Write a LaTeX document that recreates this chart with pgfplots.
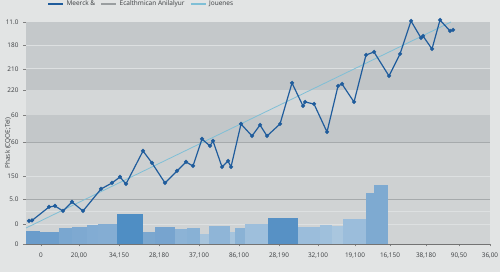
\documentclass[border=0pt]{standalone}
\usepackage{pgfplots}
\pgfplotsset{compat=1.18}
\usepackage{fontspec}
\setmainfont{Open Sans}
\definecolor{pagebg}{HTML}{E2E4E4}
\definecolor{mainblue}{HTML}{1F5C9C}
\definecolor{trendc}{HTML}{7FBFD6}
\definecolor{leggray}{HTML}{9A9EA0}
\definecolor{txt}{HTML}{3A3D40}
\definecolor{bA}{HTML}{C4C8CA}
\definecolor{bB}{HTML}{C7CBCD}
\definecolor{bC}{HTML}{C1C5C7}
\definecolor{bD}{HTML}{D4D7D8}
\definecolor{bE}{HTML}{C3C7C9}
\definecolor{bF}{HTML}{CDD0D1}
\definecolor{bG}{HTML}{CED1D2}
\definecolor{bH}{HTML}{D0D3D4}
\definecolor{lnL}{HTML}{DDE0E1}
\definecolor{lnD}{HTML}{A6AAAC}
\definecolor{c01}{HTML}{6A9CCB}
\definecolor{c02}{HTML}{6D9ECC}
\definecolor{c03}{HTML}{7AA7D0}
\definecolor{c04}{HTML}{7EA9D1}
\definecolor{c05}{HTML}{82ACD3}
\definecolor{c06}{HTML}{84ADD3}
\definecolor{c07}{HTML}{4F8EC4}
\definecolor{c08}{HTML}{7BA7CF}
\definecolor{c09}{HTML}{77A4CF}
\definecolor{c10}{HTML}{8CB3D6}
\definecolor{c11}{HTML}{88B1D5}
\definecolor{c12}{HTML}{A7C4DC}
\definecolor{c13}{HTML}{8FB5D7}
\definecolor{c14}{HTML}{A6C4DD}
\definecolor{c15}{HTML}{8AB2D5}
\definecolor{c16}{HTML}{9EBFDC}
\definecolor{c17}{HTML}{5791C5}
\definecolor{c18}{HTML}{9BBDDB}
\definecolor{c19}{HTML}{9FC0DC}
\definecolor{c20}{HTML}{A9C6DE}
\definecolor{c21}{HTML}{9BBDDB}
\definecolor{c22}{HTML}{7EAAD1}
\definecolor{c23}{HTML}{7EAAD1}
\newcommand\bbar[4]{\addplot[draw=none,fill=#4,forget plot] coordinates {(#1,0) (#1,#3) (#2,#3) (#2,0)} -- cycle;}
\begin{document}
\begin{tikzpicture}
\fill[pagebg] (-26pt,-28pt) rectangle (474pt,244pt);
\useasboundingbox (-26pt,-28pt) rectangle (474pt,244pt);
\begin{axis}[
  at={(0pt,0pt)}, anchor=south west,
  scale only axis, width=464pt, height=222pt,
  xmin=26, xmax=490, ymin=0, ymax=222,
  clip=false,
  axis lines*=left,
  x axis line style={color=black!55, line width=0.6pt},
  y axis line style={color=black!40, line width=0.5pt},
  tick align=outside,
  major tick length=2.5pt, minor tick length=1.5pt,
  every tick/.style={color=black!50, line width=0.4pt},
  xtick={41,79,119,159,199,239,279,318,355,390,426,459,490},
  xticklabels={\mbox{0},\mbox{20,00},\mbox{34,150},\mbox{28,180},\mbox{37,100},\mbox{86,100},\mbox{28,190},\mbox{32,100},\mbox{19,100},\mbox{16,150},\mbox{38,180},\mbox{90,50},\mbox{36,00}},
  minor x tick num=1,
  ytick={0,20,45,68,102,129,154,175,199,222},
  yticklabels={\mbox{0},\mbox{0},\mbox{5.0},\mbox{150},\mbox{60},\mbox{60},\mbox{220},\mbox{210},\mbox{180},\mbox{11.0}},
  minor y tick num=2,
  every tick label/.append style={font=\fontsize{6.4}{7.5}\selectfont, text=txt},
  xticklabel style={yshift=-2.5pt},
  yticklabel style={xshift=-1.5pt},
  ylabel={Phask (CQOE;TeI)},
  ylabel style={at={(axis description cs:-0.039,0.455)}, anchor=center, font=\fontsize{6.4}{7.5}\selectfont, text=txt},
  legend columns=3,
  legend style={at={(axis description cs:0.045,1.081)}, anchor=west, draw=none, fill=none,
    font=\fontsize{6.5}{7.5}\selectfont, text=txt, inner sep=0pt,
    /tikz/every even column/.append style={column sep=3pt}},
  legend image code/.code={\draw[#1] (0pt,0pt) -- (15pt,0pt);},
]
% background bands
\fill[bA] (axis cs:26,199) rectangle (axis cs:490,222);
\fill[bB] (axis cs:26,176) rectangle (axis cs:490,199);
\fill[bC] (axis cs:26,154) rectangle (axis cs:490,176);
\fill[bD] (axis cs:26,129) rectangle (axis cs:490,154);
\fill[bE] (axis cs:26,102) rectangle (axis cs:490,129);
\fill[bF] (axis cs:26,68) rectangle (axis cs:490,102);
\fill[bG] (axis cs:26,45) rectangle (axis cs:490,68);
\fill[bH] (axis cs:26,0) rectangle (axis cs:490,45);
\draw[lnL, line width=0.6pt] (axis cs:26,199) -- (axis cs:490,199);
\draw[lnL, line width=0.6pt] (axis cs:26,176) -- (axis cs:490,176);
\draw[lnL, line width=0.6pt] (axis cs:26,68) -- (axis cs:490,68);
\draw[lnL, line width=0.6pt] (axis cs:26,33) -- (axis cs:490,33);
\draw[lnL, line width=0.5pt] (axis cs:26,20) -- (axis cs:490,20);
\draw[lnD, line width=0.6pt] (axis cs:26,102) -- (axis cs:490,102);
\draw[lnD, line width=0.6pt] (axis cs:26,45) -- (axis cs:490,45);
% bars
\bbar{26}{40}{13}{c01}
\bbar{40}{59}{12}{c02}
\bbar{59}{72}{16}{c03}
\bbar{72}{87}{17.3}{c04}
\bbar{87}{98}{19}{c05}
\bbar{98}{117}{20}{c06}
\bbar{117}{143}{30.3}{c07}
\bbar{143}{155}{12.3}{c08}
\bbar{155}{175}{17.3}{c09}
\bbar{175}{187}{15}{c10}
\bbar{187}{200}{16.3}{c11}
\bbar{200}{209}{10}{c12}
\bbar{209}{230}{18}{c13}
\bbar{230}{235}{12.3}{c14}
\bbar{235}{245}{16.3}{c15}
\bbar{245}{268}{20}{c16}
\bbar{268}{298}{26}{c17}
\bbar{298}{320}{17.3}{c18}
\bbar{320}{332}{19}{c19}
\bbar{332}{343}{18}{c20}
\bbar{343}{366}{24.5}{c21}
\bbar{366}{374}{50.5}{c22}
\bbar{374}{388}{59}{c23}
% trend
\addplot[trendc, line width=0.8pt, forget plot] coordinates {(26,16) (451,222)};
% main series
\addplot[mainblue, line width=1.2pt, mark=*, mark size=1.4pt, forget plot] coordinates {
(29,23) (32,23.5) (49,37) (55,38) (63,33) (72,42) (83,33) (101,55) (112,61) (120,67)
(126,60) (143,93) (152,81) (165,61) (177,73) (186,82) (193,78) (202,105) (210,98) (213,103)
(222,77) (228,83) (231,77) (241,120) (252,108) (260,119) (267,108) (280,120) (292,161) (303,138)
(305,142) (314,140) (327,112) (338,158) (342,160) (354,142) (366,189) (374,192) (389,168) (400,190)
(411,223) (421,206) (423,208) (432,195) (440,224) (450,213) (453,214)};
\addlegendimage{mainblue, line width=2.5pt}
\addlegendentry{Meerck \&}
\addlegendimage{leggray, line width=2.5pt}
\addlegendentry{Ecalthmican Anilalyur}
\addlegendimage{trendc, line width=2.5pt}
\addlegendentry{Jouenes}
\end{axis}
\end{tikzpicture}
\end{document}
